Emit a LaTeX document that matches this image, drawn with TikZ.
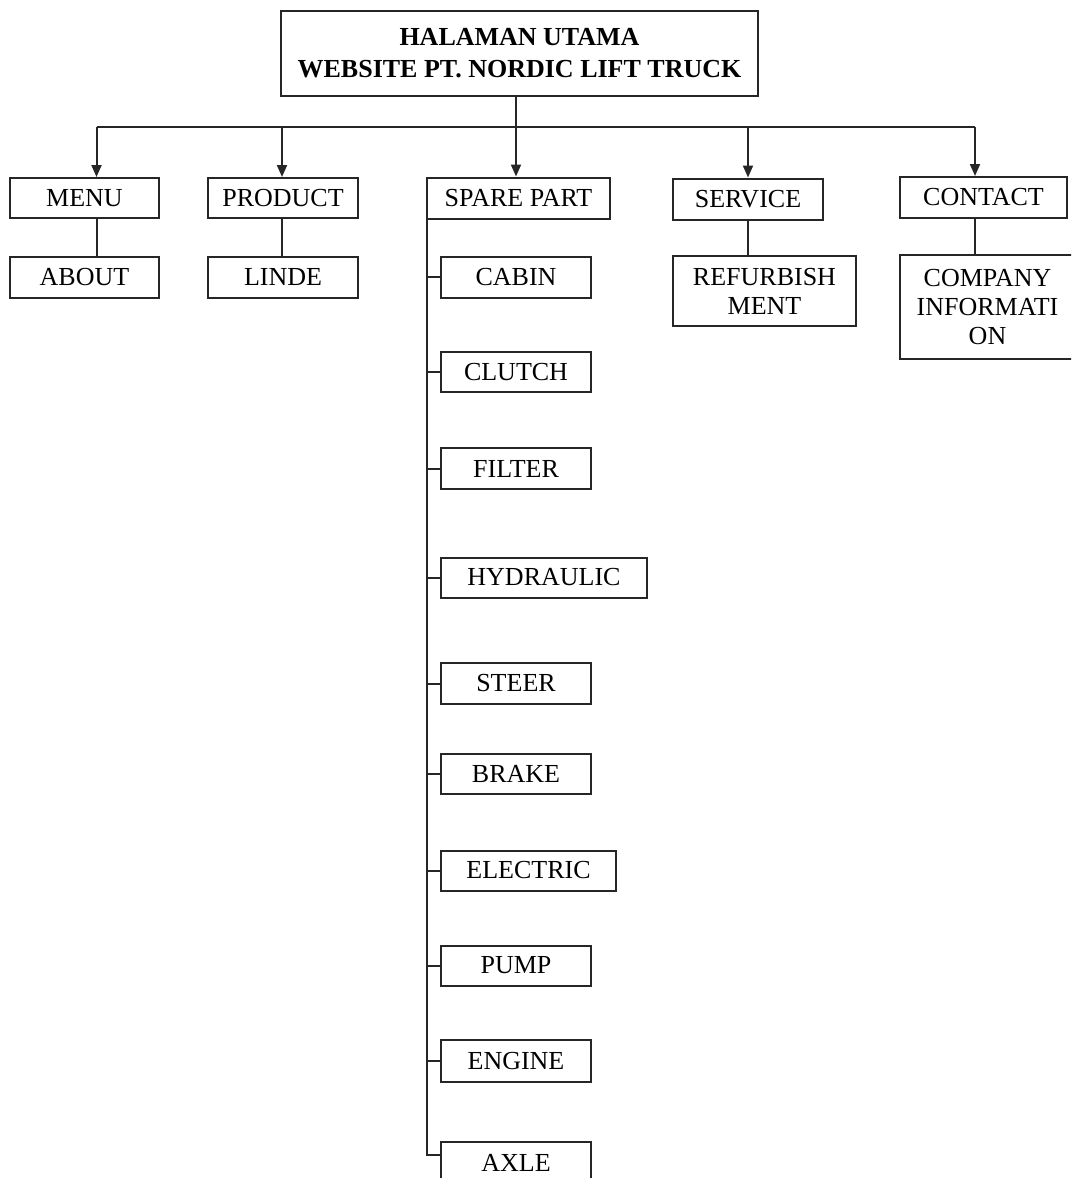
\documentclass[tikz,border=0pt]{standalone}
\usepackage{fontspec}
\setmainfont{Liberation Serif}
\usetikzlibrary{arrows.meta}
\begin{document}
\begin{tikzpicture}[x=1pt,y=-1pt,
  box/.style={draw=black!85, line width=2pt, inner sep=0pt, align=center,
    font=\fontsize{26}{29}\selectfont},
  conn/.style={line width=2pt, draw=black!85},
  arr/.style={conn, -{Triangle[width=10pt,length=12pt]}}]
\clip (0,0) rectangle (1071,1178);
\useasboundingbox (0,0) rectangle (1071,1178);
% top
\node[box, font=\bfseries\fontsize{26}{32}\selectfont, minimum width=477, minimum height=85] (top) at (519.5,53.5) {HALAMAN UTAMA\\WEBSITE PT. NORDIC LIFT TRUCK};
% level 1
\node[box, minimum width=149, minimum height=40] (menu) at (84.5,198) {MENU};
\node[box, minimum width=150, minimum height=40] (product) at (283,198) {PRODUCT};
\node[box, minimum width=183, minimum height=41] (sp) at (518.5,198) {SPARE PART};
\node[box, minimum width=150, minimum height=41] (service) at (748,199) {SERVICE};
\node[box, minimum width=167, minimum height=41] (contact) at (983.5,197.5) {CONTACT};
% level 2
\node[box, minimum width=149, minimum height=41] (about) at (84.5,277) {ABOUT};
\node[box, minimum width=150, minimum height=41] (linde) at (283,277) {LINDE};
\node[box, minimum width=183, minimum height=70] (refurb) at (764.5,291) {REFURBISH\\MENT};
\node[box, minimum width=175, minimum height=104] (company) at (987.5,307) {COMPANY\\INFORMATI\\ON};
% spare part children
\node[box, minimum width=150, minimum height=41] (cabin) at (516,277) {CABIN};
\node[box, minimum width=150, minimum height=40] (clutch) at (516,372) {CLUTCH};
\node[box, minimum width=150, minimum height=41] (filter) at (516,468.5) {FILTER};
\node[box, minimum width=206, minimum height=40] (hydraulic) at (544,577.5) {HYDRAULIC};
\node[box, minimum width=150, minimum height=41] (steer) at (516,683.5) {STEER};
\node[box, minimum width=150, minimum height=40] (brake) at (516,773.5) {BRAKE};
\node[box, minimum width=175, minimum height=40] (electric) at (528.5,870.5) {ELECTRIC};
\node[box, minimum width=150, minimum height=40] (pump) at (516,965.5) {PUMP};
\node[box, minimum width=150, minimum height=42] (engine) at (516,1061) {ENGINE};
\node[box, minimum width=150, minimum height=41] (axle) at (516,1162.5) {AXLE};
% bus
\coordinate (bus) at (516,127);
\draw[conn] (top.south -| bus) -- (bus);
\draw[conn] ([xshift=12pt]menu.north |- bus) -- ([xshift=-8.5pt]contact.north |- bus);
\draw[arr] ([xshift=12pt]menu.north |- bus) -- ([xshift=12pt]menu.north);
\draw[arr] ([xshift=-1pt]product.north |- bus) -- ([xshift=-1pt]product.north);
\draw[arr] (bus) -- (bus |- sp.north);
\draw[arr] (service.north |- bus) -- (service.north);
\draw[arr] ([xshift=-8.5pt]contact.north |- bus) -- ([xshift=-8.5pt]contact.north);
% level 2 connectors
\draw[conn] ([xshift=12pt]menu.south) -- ([xshift=12pt]menu.south |- about.north);
\draw[conn] ([xshift=-1pt]product.south) -- ([xshift=-1pt]product.south |- linde.north);
\draw[conn] (service.south) -- (service.south |- refurb.north);
\draw[conn] ([xshift=-8.5pt]contact.south) -- ([xshift=-8.5pt]contact.south |- company.north);
% spare part spine
\draw[conn] ([xshift=1pt]sp.south west) |- ([yshift=8pt]axle.west);
\foreach \n in {cabin,clutch,filter,hydraulic,steer,brake,electric,pump,engine}
  \draw[conn] ([xshift=1pt]sp.south west |- \n.west) -- (\n.west);
\end{tikzpicture}
\end{document}
